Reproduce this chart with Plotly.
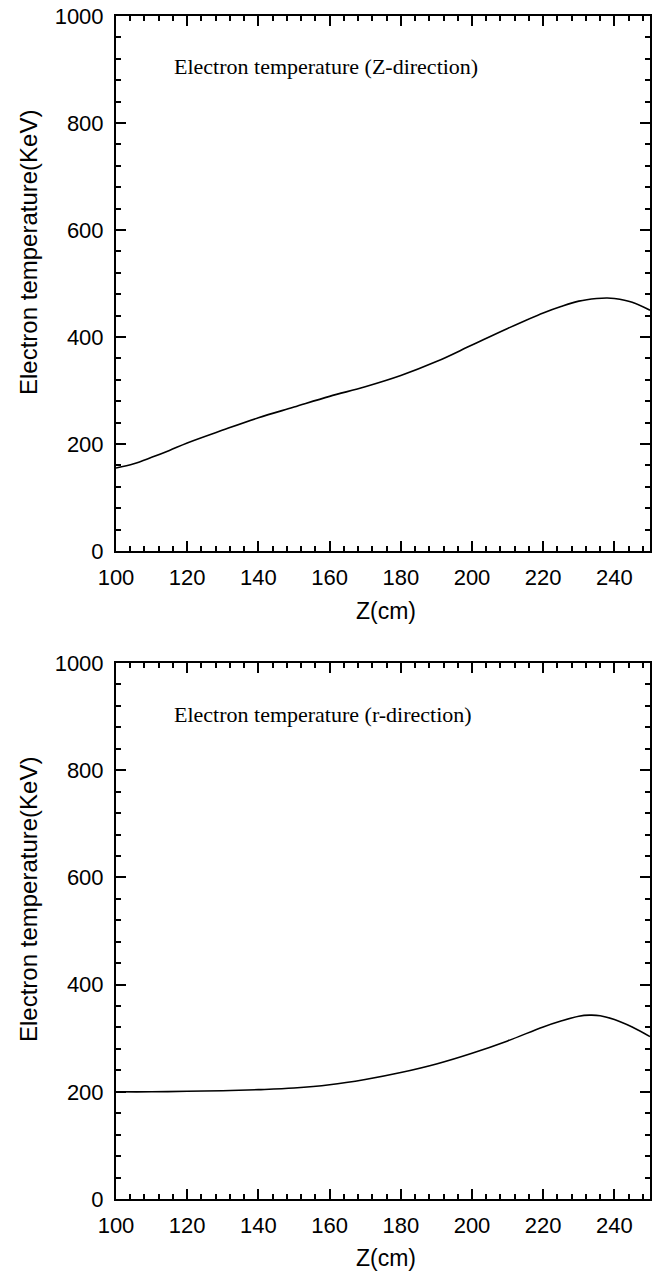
import plotly.graph_objects as go

# Axial profile (Z-direction)
z_axial = [100, 105, 110, 115, 120, 130, 140, 150, 160, 170, 180, 190,
           200, 210, 220, 225, 230, 235, 238, 240, 245, 250]
te_axial = [155, 163, 175, 188, 202, 226, 249, 269, 289, 307, 328, 354,
            385, 416, 445, 457, 467, 472, 473, 472, 465, 450]

# Radial profile (r-direction)
z_radial = [100, 110, 120, 130, 140, 150, 160, 170, 180, 190, 200, 210,
            220, 225, 230, 233, 236, 240, 245, 250]
te_radial = [200, 200, 201, 202, 204, 207, 213, 223, 236, 252, 272, 295,
             321, 332, 341, 343, 342, 335, 321, 303]

panel_titles = ["Electron temperature (Z-direction)",
                "Electron temperature (r-direction)"]
x_title = "Z(cm)"
y_title = "Electron temperature(KeV)"

W, H = 655, 1273
x_dom = [116 / W, 650 / W]
y_doms = [[1 - 551 / H, 1 - 16 / H], [1 - 1199 / H, 1 - 663 / H]]

fig = go.Figure()
fig.add_trace(go.Scatter(x=z_axial, y=te_axial, mode="lines", line_shape="spline",
                         line=dict(color="black", width=1.6), xaxis="x", yaxis="y"))
fig.add_trace(go.Scatter(x=z_radial, y=te_radial, mode="lines", line_shape="spline",
                         line=dict(color="black", width=1.6), xaxis="x2", yaxis="y2"))

sans = "Liberation Sans, Arial, sans-serif"
tick_font = dict(family=sans, size=22, color="black")
common = dict(showline=True, linewidth=2, linecolor="black", mirror="allticks",
              ticks="inside", tickwidth=2, ticklen=10, tickcolor="black",
              showgrid=False, zeroline=False, tickfont=tick_font, fixedrange=True,
              automargin=False)

layout = dict(width=W, height=H,
              margin=dict(l=0, r=0, t=0, b=0, pad=0, autoexpand=False),
              paper_bgcolor="white", plot_bgcolor="white", showlegend=False)

annotations = []
for i, (yd, title) in enumerate(zip(y_doms, panel_titles)):
    sx = "" if i == 0 else str(i + 1)
    layout["xaxis" + sx] = dict(domain=x_dom, anchor="y" + sx, range=[100, 250],
                                tick0=100, dtick=20, ticklabelstandoff=6,
                                minor=dict(ticks="inside", ticklen=5, tickwidth=1.5,
                                           tickcolor="black", dtick=4, tick0=100),
                                **common)
    layout["yaxis" + sx] = dict(domain=yd, anchor="x" + sx, range=[0, 1000],
                                tick0=0, dtick=200, ticklabelstandoff=6,
                                minor=dict(ticks="inside", ticklen=5, tickwidth=1.5,
                                           tickcolor="black", dtick=40, tick0=0),
                                **common)
    top_px = 16 + i * 647
    # panel title inside the plot area
    annotations.append(dict(text=title, xref="paper", yref="paper",
                            x=172 / W, y=1 - (top_px + 51) / H, xanchor="left",
                            yanchor="middle", showarrow=False,
                            font=dict(family="Liberation Serif, Times New Roman, serif",
                                      size=22, color="black")))
    # x axis title
    annotations.append(dict(text=x_title, xref="paper", yref="paper",
                            x=386 / W, y=1 - (top_px + 595) / H, xanchor="center",
                            yanchor="middle", showarrow=False,
                            font=dict(family=sans, size=23, color="black")))
    # y axis title
    annotations.append(dict(text=y_title, xref="paper", yref="paper",
                            x=28 / W, y=1 - (top_px + 237) / H, xanchor="center",
                            yanchor="middle", showarrow=False, textangle=-90,
                            font=dict(family=sans, size=24, color="black")))

layout["annotations"] = annotations
fig.update_layout(**layout)
fig.write_html("out.html", config={"displayModeBar": False})
